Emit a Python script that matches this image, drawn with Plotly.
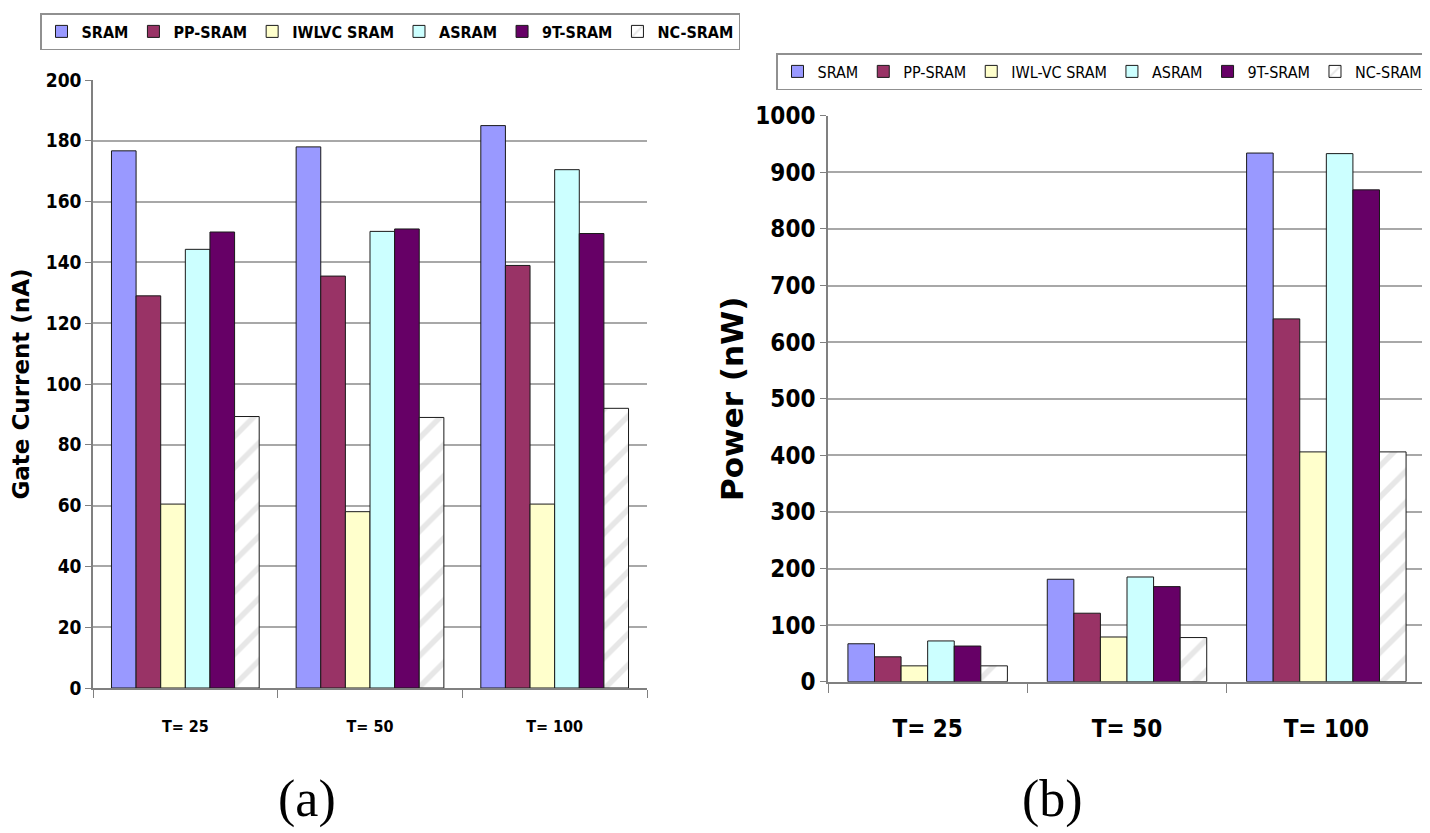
import plotly.graph_objects as go

categories = ["T= 25", "T= 50", "T= 100"]
series_a = ["SRAM", "PP-SRAM", "IWLVC SRAM", "ASRAM", "9T-SRAM", "NC-SRAM"]
series_b = ["SRAM", "PP-SRAM", "IWL-VC SRAM", "ASRAM", "9T-SRAM", "NC-SRAM"]
colors = ["#9999FF", "#993366", "#FFFFCC", "#CCFFFF", "#660066", "#FFFFFF"]

gate_current = {
    "SRAM":       [176.7, 178.0, 185.0],
    "PP-SRAM":    [129.0, 135.5, 139.0],
    "IWLVC SRAM": [60.5, 58.0, 60.5],
    "ASRAM":      [144.3, 150.2, 170.5],
    "9T-SRAM":    [150.0, 151.0, 149.5],
    "NC-SRAM":    [89.3, 89.0, 92.0],
}
power = {
    "SRAM":        [67, 181, 934],
    "PP-SRAM":     [44, 121, 641],
    "IWL-VC SRAM": [28, 79, 406],
    "ASRAM":       [72, 185, 933],
    "9T-SRAM":     [63, 168, 869],
    "NC-SRAM":     [28, 78, 406],
}

NARROW = "DejaVu Sans Condensed, Liberation Sans Narrow, Arial Narrow, Liberation Sans"
WIDE = "DejaVu Sans, Liberation Sans, Arial"
SERIF = "Liberation Serif, Times New Roman"

fig = go.Figure()

def add_bars(names, data, xa, ya, legend):
    for name, col in zip(names, colors):
        pattern = None
        if name == "NC-SRAM":
            pattern = dict(shape="/", fgcolor="#cfcfcf", bgcolor="#FFFFFF",
                           size=22, solidity=0.25, fillmode="overlay")
        fig.add_trace(go.Bar(
            x=categories, y=data[name], name=name,
            marker=dict(color=col, line=dict(color="#1a1a1a", width=1),
                        pattern=pattern),
            xaxis=xa, yaxis=ya, legend=legend,
        ))

add_bars(series_a, gate_current, "x", "y", "legend")
add_bars(series_b, power, "x2", "y2", "legend2")

# the page body has an 8px margin; positions below are in window pixels
OFF = 8
W, H = 1430 - OFF, 833 - OFF
def fx(px): return (px - OFF) / W
def fy(py): return 1 - (py - OFF) / H

grid = "#a8a8a8"
axline = "#808080"

fig.update_layout(
    width=W, height=H,
    margin=dict(l=0, r=0, t=0, b=0, autoexpand=False),
    paper_bgcolor="white", plot_bgcolor="white",
    barmode="group", bargap=0.2, bargroupgap=0,
    xaxis=dict(domain=[fx(93), fx(647)], anchor="y", automargin=False,
               tickson="boundaries", ticks="outside", ticklen=8,
               tickcolor=axline, showline=True, linecolor=axline, linewidth=1.5,
               ticklabelstandoff=23,
               tickfont=dict(family=NARROW, size=16, color="black", weight="bold"),
               showgrid=False),
    yaxis=dict(domain=[fy(688), fy(80)], anchor="x", range=[0, 200], dtick=20,
               automargin=False,
               ticks="outside", ticklen=6, tickcolor=axline,
               showline=True, linecolor=axline, linewidth=1.5,
               gridcolor=grid, gridwidth=1.5,
               zeroline=False,
               tickfont=dict(family=NARROW, size=19, color="black", weight="bold"),
               title=dict(text="Gate Current (nA)", standoff=12,
                          font=dict(family=WIDE, size=23, color="black", weight="bold"))),
    xaxis2=dict(domain=[fx(828), fx(1426)], anchor="y2", automargin=False,
                tickson="boundaries", ticks="outside", ticklen=10,
                tickcolor=axline, showline=True, linecolor=axline, linewidth=1.5,
                ticklabelstandoff=25,
                tickfont=dict(family=NARROW, size=24, color="black", weight="bold"),
                showgrid=False),
    yaxis2=dict(domain=[fy(681.7), fy(115.7)], anchor="x2", range=[0, 1000], dtick=100,
                automargin=False,
                ticks="outside", ticklen=6, tickcolor=axline,
                showline=True, mirror=True, linecolor=axline, linewidth=1.5,
                gridcolor=grid, gridwidth=1.5, zeroline=False,
                tickfont=dict(family=NARROW, size=24, color="black", weight="bold"),
                title=dict(text="Power (nW)", standoff=2,
                           font=dict(family=WIDE, size=31, color="black", weight="bold"))),
    legend=dict(orientation="h", x=fx(40), y=fy(13), xanchor="left", yanchor="top",
                bordercolor="#909090", borderwidth=1.5, bgcolor="white",
                itemwidth=30, traceorder="normal",
                font=dict(family=NARROW, size=16, color="black", weight="bold")),
    legend2=dict(orientation="h", x=fx(776), y=fy(53), xanchor="left", yanchor="top",
                 bordercolor="#909090", borderwidth=1.5, bgcolor="white",
                 itemwidth=30, traceorder="normal",
                 font=dict(family=NARROW, size=16, color="black")),
    annotations=[
        dict(text="(a)", x=fx(307), y=fy(799), xref="paper", yref="paper",
             showarrow=False, xanchor="center", yanchor="middle",
             font=dict(family=SERIF, size=52, color="black")),
        dict(text="(b)", x=fx(1052), y=fy(799), xref="paper", yref="paper",
             showarrow=False, xanchor="center", yanchor="middle",
             font=dict(family=SERIF, size=52, color="black")),
    ],
)

fig.write_html("out.html")
